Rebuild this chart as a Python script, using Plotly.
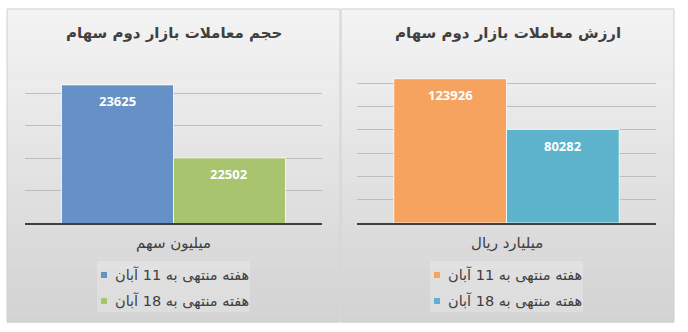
import plotly.graph_objects as go

# ---------------- data ----------------
titles = ["حجم معاملات بازار دوم سهام", "ارزش معاملات بازار دوم سهام"]
categories = ["میلیون سهم", "میلیارد ریال"]
series_names = ["هفته منتهی به 11 آبان", "هفته منتهی به 18 آبان"]
volume_values = [23625, 22502]       # million shares
value_values = [123926, 80282]       # billion rials
volume_axis = [21500, 24000, 500]
value_axis = [0, 140000, 20000]
volume_colors = ["#6691c7", "#a8c46f"]
value_colors = ["#f5a35f", "#5cb3cb"]

# ---------------- layout helpers ----------------
W, H = 688, 332
def px(x):
    return x / W
def py(y):
    return 1 - y / H

ARABIC = "DejaVu Sans"
NUM = "Open Sans"
TEXT = "#404040"
BARGAP = 0.246

panels = [
    dict(box=(7, 9, 340, 322), plot=(25, 322, 60.5, 223), legend=(97, 250, 261, 312)),
    dict(box=(341, 9, 674, 322), plot=(357, 656, 60, 223), legend=(430, 583, 261, 312)),
]
datasets = [(volume_values, volume_colors, volume_axis), (value_values, value_colors, value_axis)]

fig = go.Figure()
shapes = []
annotations = []

for i, (panel, (vals, cols, ax)) in enumerate(zip(panels, datasets)):
    xa = "x" if i == 0 else "x2"
    ya = "y" if i == 0 else "y2"
    x0, y0, x1, y1 = panel["box"]
    # gradient background strips
    n = 40
    top_c, bot_c = 243, 211
    for k in range(n):
        t = k / (n - 1)
        c = round(top_c + (bot_c - top_c) * t)
        sy0 = y0 + (y1 - y0) * k / n
        sy1 = y0 + (y1 - y0) * (k + 1) / n + 0.6
        shapes.append(dict(type="rect", xref="paper", yref="paper",
                           x0=px(x0), x1=px(x1), y0=py(sy1), y1=py(sy0),
                           fillcolor=f"rgb({c},{c},{c})", line_width=0, layer="below"))
    shapes.append(dict(type="rect", xref="paper", yref="paper",
                       x0=px(x0), x1=px(x1), y0=py(y1), y1=py(y0),
                       fillcolor="rgba(0,0,0,0)", line=dict(color="#cfcfcf", width=1), layer="below"))
    # legend box
    lx0, lx1, ly0, ly1 = panel["legend"]
    shapes.append(dict(type="rect", xref="paper", yref="paper",
                       x0=px(lx0), x1=px(lx1), y0=py(ly1), y1=py(ly0),
                       fillcolor="rgba(255,255,255,0.22)", line_width=0, layer="below"))
    for j, name in enumerate(series_names):
        fig.add_trace(go.Bar(
            x=[categories[i]], y=[vals[j]], name=name, xaxis=xa, yaxis=ya,
            marker=dict(color=cols[j], line=dict(color="white", width=0.8)),
            showlegend=False, hoverinfo="skip"))
        # data label
        pl, pr = panel["plot"][0], panel["plot"][1]
        group_w = (pr - pl) * (1 - BARGAP)
        shift = (-1 if j == 0 else 1) * group_w / 4
        annotations.append(dict(text=f"<b>{vals[j]}</b>", x=categories[i], y=vals[j],
                                xref=xa, yref=ya, yshift=-16, xshift=shift, showarrow=False,
                                font=dict(family=NUM, size=13, color="white")))
        # legend entry
        ry = 275 + 26 * j
        annotations.append(dict(text=name, x=px(lx1 + 1), y=py(ry), xref="paper", yref="paper",
                                xanchor="right", yanchor="middle", showarrow=False,
                                font=dict(family=ARABIC, size=14.5, color=TEXT)))
        shapes.append(dict(type="rect", xref="paper", yref="paper",
                           x0=px(lx0 + 4), x1=px(lx0 + 10), y0=py(ry + 3), y1=py(ry - 3),
                           fillcolor=cols[j], line_width=0))
    # title
    cx = (x0 + x1) / 2
    annotations.append(dict(text=f"<b>{titles[i]}</b>", x=px(cx), y=py(33), xref="paper", yref="paper",
                            xanchor="center", yanchor="middle", showarrow=False,
                            font=dict(family=ARABIC, size=15, color=TEXT)))
    # category label
    pcx = (panel["plot"][0] + panel["plot"][1]) / 2
    annotations.append(dict(text=categories[i], x=px(pcx), y=py(243), xref="paper", yref="paper",
                            xanchor="center", yanchor="middle", showarrow=False,
                            font=dict(family=ARABIC, size=15, color=TEXT)))

def axes(panel, ax):
    l, r, t, b = panel["plot"]
    xa = dict(domain=[px(l), px(r)], showticklabels=False, showgrid=False, zeroline=False,
              showline=True, linecolor="#404040", linewidth=2, fixedrange=True)
    ya = dict(domain=[py(b), py(t)], range=[ax[0], ax[1]], dtick=ax[2], tick0=ax[0],
              showticklabels=False, showgrid=True, gridcolor="#bdbdbd", gridwidth=1,
              zeroline=False, showline=False, fixedrange=True)
    return xa, ya

xa1, ya1 = axes(panels[0], volume_axis)
xa2, ya2 = axes(panels[1], value_axis)
ya2["anchor"] = "x2"
xa2["anchor"] = "y2"

fig.update_layout(
    width=W, height=H, margin=dict(l=0, r=0, t=0, b=0),
    paper_bgcolor="white", plot_bgcolor="rgba(0,0,0,0)",
    barmode="group", bargap=BARGAP, bargroupgap=0,
    xaxis=xa1, yaxis=ya1, xaxis2=xa2, yaxis2=ya2,
    shapes=shapes, annotations=annotations, showlegend=False,
)

fig.write_html("out.html")
